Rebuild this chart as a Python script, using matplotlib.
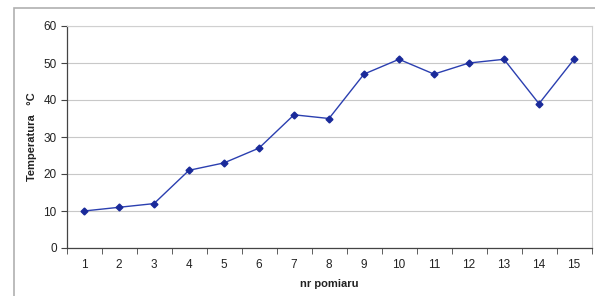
import matplotlib
matplotlib.use("Agg")
import matplotlib.pyplot as plt
from matplotlib.patches import Rectangle

plt.rcParams['font.family'] = ['Liberation Sans', 'DejaVu Sans']

measurement = list(range(1, 16))
temperature = [10, 11, 12, 21, 23, 27, 36, 35, 47, 51, 47, 50, 51, 39, 51]
y_ticks = [0, 10, 20, 30, 40, 50, 60]

fig = plt.figure(figsize=(5.95, 2.96), dpi=100)
fig.patch.set_facecolor('white')
fig.add_artist(Rectangle((14/595, -0.01), 1.0, 1 - 8/296 + 0.01, transform=fig.transFigure,
                         fill=False, edgecolor='#b0b0b0', linewidth=1.2))
ax = fig.add_axes([66.5/595, 1 - 248/296, 525/595, 222/296])

ax.plot(measurement, temperature, color='#2b3fb0', linewidth=1.0, marker='D',
        markersize=3.5, markerfacecolor='#1a2a9a', markeredgecolor='#1a2a9a', zorder=3)

ax.set_xlim(0.5, 15.5)
ax.set_ylim(0, 60)
ax.set_yticks(y_ticks)
ax.set_xticks(measurement)
ax.set_xticks([i + 0.5 for i in range(0, 16)], minor=True)
ax.tick_params(axis='x', which='major', length=0, pad=8, labelsize=8.5, colors='#222222')
ax.tick_params(axis='x', which='minor', length=4, direction='out', color='#444444')
ax.tick_params(axis='y', length=4, direction='out', labelsize=8.5, color='#444444', labelcolor='#222222', pad=3)
ax.grid(axis='y', color='#c8c8c8', linewidth=0.8)
ax.set_axisbelow(True)
for s in ['top', 'right']:
    ax.spines[s].set_color('#d0d0d0')
    ax.spines[s].set_linewidth(0.8)
for s in ['left', 'bottom']:
    ax.spines[s].set_color('#444444')
    ax.spines[s].set_linewidth(0.9)

ax.set_xlabel('nr pomiaru', fontsize=8, fontweight='bold', color='#222222', labelpad=6)
ax.set_ylabel('Temperatura   °C', fontsize=8, fontweight='bold', color='#222222', labelpad=5)

fig.savefig('out.png', dpi=100)
